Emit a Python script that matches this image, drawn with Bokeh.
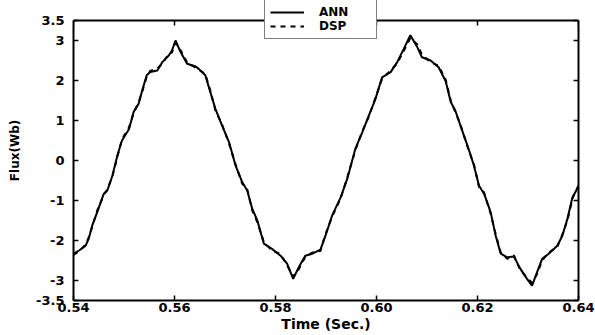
from bokeh.plotting import figure
from bokeh.models import Range1d, LinearAxis, FixedTicker, Legend, LegendItem
from bokeh.embed import file_html
from bokeh.resources import INLINE

time = [0.5400, 0.5411, 0.5424, 0.5430, 0.5437, 0.5447, 0.5460, 0.5467, 0.5477, 0.5487,
        0.5496, 0.5510, 0.5519, 0.5529, 0.5536, 0.5545, 0.5552, 0.5566, 0.5576, 0.5589,
        0.5595, 0.5602, 0.5612, 0.5625, 0.5642, 0.5648, 0.5661, 0.5671, 0.5681, 0.5694,
        0.5708, 0.5721, 0.5734, 0.5744, 0.5754, 0.5764, 0.5777, 0.5793, 0.5810, 0.5823,
        0.5835, 0.5846, 0.5859, 0.5873, 0.5889, 0.5899, 0.5912, 0.5929, 0.5942, 0.5958,
        0.5972, 0.5985, 0.5998, 0.6011, 0.6028, 0.6041, 0.6054, 0.6067, 0.6081, 0.6090,
        0.6107, 0.6123, 0.6137, 0.6147, 0.6156, 0.6166, 0.6180, 0.6193, 0.6203, 0.6213,
        0.6226, 0.6236, 0.6246, 0.6259, 0.6272, 0.6285, 0.6298, 0.6308, 0.6318, 0.6328,
        0.6341, 0.6358, 0.6368, 0.6378, 0.6388, 0.6394, 0.6400]

ann = [-2.33, -2.25, -2.13, -1.96, -1.63, -1.29, -0.83, -0.75, -0.38, 0.13,
       0.50, 0.79, 1.21, 1.42, 1.75, 2.13, 2.21, 2.25, 2.46, 2.63,
       2.75, 3.00, 2.71, 2.42, 2.35, 2.29, 2.13, 1.71, 1.29, 0.88,
       0.46, -0.13, -0.54, -0.75, -1.21, -1.50, -2.08, -2.21, -2.38, -2.58,
       -2.96, -2.67, -2.38, -2.33, -2.23, -1.88, -1.38, -0.92, -0.46, 0.29,
       0.71, 1.13, 1.54, 2.08, 2.21, 2.46, 2.79, 3.13, 2.83, 2.58,
       2.50, 2.33, 1.98, 1.46, 1.25, 0.88, 0.38, -0.13, -0.63, -0.83,
       -1.29, -1.88, -2.33, -2.42, -2.40, -2.71, -2.96, -3.13, -2.79, -2.46,
       -2.33, -2.13, -1.88, -1.46, -0.92, -0.79, -0.62]

dsp = [-2.36, -2.27, -2.10, -1.92, -1.66, -1.25, -0.86, -0.72, -0.40, 0.10,
       0.53, 0.83, 1.18, 1.46, 1.72, 2.10, 2.24, 2.30, 2.42, 2.68,
       2.70, 2.94, 2.76, 2.45, 2.32, 2.27, 2.16, 1.74, 1.25, 0.91,
       0.42, -0.10, -0.58, -0.72, -1.25, -1.54, -2.04, -2.25, -2.34, -2.62,
       -2.90, -2.72, -2.41, -2.30, -2.26, -1.84, -1.41, -0.95, -0.43, 0.25,
       0.74, 1.10, 1.57, 2.04, 2.25, 2.43, 2.74, 3.06, 2.90, 2.64,
       2.46, 2.37, 2.02, 1.50, 1.21, 0.91, 0.35, -0.10, -0.66, -0.80,
       -1.33, -1.84, -2.30, -2.46, -2.37, -2.75, -2.92, -3.06, -2.84, -2.50,
       -2.30, -2.16, -1.85, -1.50, -0.96, -0.76, -0.66]

x_ticks = [0.54, 0.56, 0.58, 0.60, 0.62, 0.64]
x_tick_labels = ["0.54", "0.56", "0.58", "0.60", "0.62", "0.64"]
y_ticks = [-3.5, -3, -2, -1, 0, 1, 2, 3, 3.5]
y_tick_labels = ["-3.5", "-3", "-2", "-1", "0", "1", "2", "3", "3.5"]
y_lo, y_hi = -3.5, 3.5
series_names = ["ANN", "DSP"]

FONT = "DejaVu Sans"

# frame reaches the top of the canvas so the legend (which overhangs the box) is not clipped;
# the visible box is drawn by axes bounded to [y_lo, y_hi]
p = figure(width=595, height=335, x_range=Range1d(0.54, 0.64), y_range=Range1d(y_lo, 4.0),
           output_backend="svg", toolbar_location=None,
           min_border_left=73, min_border_right=17, min_border_top=0, min_border_bottom=35)
p.outline_line_color = None
p.xgrid.grid_line_color = None
p.ygrid.grid_line_color = None
p.background_fill_color = "white"
p.border_fill_color = "white"

l1 = p.line(time, ann, line_color="black", line_width=2)
l2 = p.line(time, dsp, line_color="black", line_width=2, line_dash="5 5")

xb = p.below[0]
yl = p.left[0]

xb.ticker = FixedTicker(ticks=x_ticks)
xb.major_label_overrides = {t: s for t, s in zip(x_ticks, x_tick_labels)}
yl.ticker = FixedTicker(ticks=y_ticks)
yl.major_label_overrides = {t: s for t, s in zip(y_ticks, y_tick_labels)}
yl.bounds = (y_lo, y_hi)

xb.axis_label = "Time (Sec.)"
yl.axis_label = "Flux(Wb)"

top = LinearAxis(ticker=FixedTicker(ticks=x_ticks), fixed_location=y_hi,
                 major_label_text_color=None, major_label_text_font_size="0px",
                 major_label_standoff=0)
right = LinearAxis(ticker=FixedTicker(ticks=y_ticks), bounds=(y_lo, y_hi),
                   major_label_text_color=None, major_label_text_font_size="0px",
                   major_label_standoff=0)
p.add_layout(top, "above")
p.add_layout(right, "right")

for ax in [xb, yl, top, right]:
    ax.axis_line_width = 2
    ax.axis_line_color = "black"
    ax.major_tick_in = 5
    ax.major_tick_out = 0
    ax.major_tick_line_width = 1.5
    ax.major_tick_line_color = "black"
    ax.minor_tick_line_color = None

for ax in [xb, yl]:
    ax.major_label_text_font = FONT
    ax.major_label_text_font_style = "bold"
    ax.major_label_text_font_size = "13px"
    ax.major_label_text_color = "black"
    ax.axis_label_text_font = FONT
    ax.axis_label_text_font_style = "bold"
    ax.axis_label_text_color = "black"

xb.major_label_standoff = 2
xb.axis_label_text_font_size = "14px"
xb.axis_label_standoff = 1
yl.major_label_standoff = 9
yl.axis_label_text_font_size = "12px"
yl.axis_label_standoff = 11

legend = Legend(items=[LegendItem(label=series_names[0], renderers=[l1]),
                       LegendItem(label=series_names[1], renderers=[l2])],
                location=(191, 261), padding=5, margin=0, spacing=-3,
                glyph_width=34, glyph_height=12, label_height=12, label_width=52,
                label_standoff=15, border_line_color="black", border_line_width=1,
                background_fill_color="white", background_fill_alpha=1,
                label_text_font=FONT, label_text_font_style="bold",
                label_text_font_size="12px", label_text_color="black")
p.add_layout(legend)

open("out.html", "w").write(file_html(p, INLINE))
